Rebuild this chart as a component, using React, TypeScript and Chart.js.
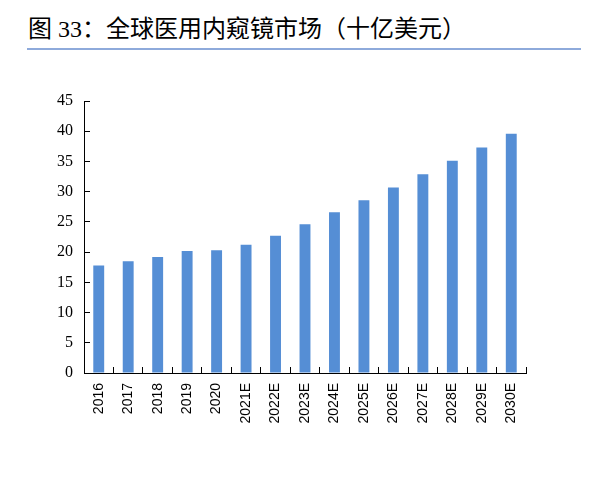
import React, { useRef, useEffect } from "react";
import { Chart, registerables } from "chart.js";

Chart.register(...registerables);

const years = [
  "2016", "2017", "2018", "2019", "2020", "2021E", "2022E", "2023E",
  "2024E", "2025E", "2026E", "2027E", "2028E", "2029E", "2030E",
];
const marketSize = [
  17.8, 18.5, 19.2, 20.2, 20.3, 21.2, 22.7, 24.6, 26.6, 28.6, 30.7, 32.9, 35.1, 37.3, 39.6,
];
const yTicks = [0, 5, 10, 15, 20, 25, 30, 35, 40, 45];

const App = () => {
  const chartRef = useRef<HTMLCanvasElement>(null);
  const chartInstanceRef = useRef<Chart | null>(null);

  useEffect(() => {
    if (!chartRef.current) return;
    const context = chartRef.current.getContext("2d");
    if (!context) return;

    chartInstanceRef.current = new Chart(context, {
      type: "bar",
      data: {
        labels: years,
        datasets: [
          {
            label: "全球医用内窥镜市场",
            data: marketSize,
            backgroundColor: "#558ed5",
            borderWidth: 0,
            categoryPercentage: 1,
            barPercentage: 0.37,
          },
        ],
      },
      options: {
        animation: false,
        responsive: false,
        maintainAspectRatio: false,
        layout: { padding: { left: 0, right: 71, top: 41, bottom: 0 } },
        plugins: {
          legend: { display: false },
          tooltip: { enabled: false },
        },
        scales: {
          y: {
            min: 0,
            max: 45,
            afterBuildTicks: (scale: any) => {
              scale.ticks = yTicks.map((v) => ({ value: v }));
            },
            afterFit: (scale: any) => {
              scale.width = 84;
            },
            border: { display: true, color: "#000", width: 1 },
            grid: {
              drawOnChartArea: false,
              drawTicks: true,
              tickLength: -6,
              color: "#000",
            },
            ticks: {
              padding: 17,
              color: "#000",
              font: { family: "'Liberation Serif', 'Times New Roman', serif", size: 16 },
            },
          },
          x: {
            afterFit: (scale: any) => {
              scale.height = 127;
            },
            border: { display: true, color: "#000", width: 1 },
            grid: {
              offset: true,
              drawOnChartArea: false,
              drawTicks: true,
              tickLength: -6,
              color: "#000",
            },
            ticks: {
              minRotation: 90,
              maxRotation: 90,
              padding: 16,
              color: "#000",
              font: { family: "'Liberation Sans', Arial, sans-serif", size: 14 },
            },
          },
        },
      },
    });

    return () => {
      if (chartInstanceRef.current) {
        chartInstanceRef.current.destroy();
        chartInstanceRef.current = null;
      }
    };
  }, []);

  return (
    <div
      style={{
        position: "absolute",
        left: 0,
        top: 0,
        width: 597,
        height: 500,
        background: "#fff",
      }}
    >
      <div
        style={{
          position: "absolute",
          left: 28,
          top: 15,
          fontSize: 24,
          lineHeight: "28px",
          color: "#000",
          fontFamily: "'Liberation Serif', 'Noto Sans CJK SC', serif",
          whiteSpace: "nowrap",
        }}
      >
        图 33：全球医用内窥镜市场（十亿美元）
      </div>
      <div
        style={{
          position: "absolute",
          left: 27,
          top: 48,
          width: 554,
          height: 2,
          background: "#8eaadb",
        }}
      />
      <canvas
        ref={chartRef}
        width={597}
        height={440}
        style={{ position: "absolute", left: 0, top: 60, width: 597, height: 440 }}
      ></canvas>
    </div>
  );
};

export default App;
